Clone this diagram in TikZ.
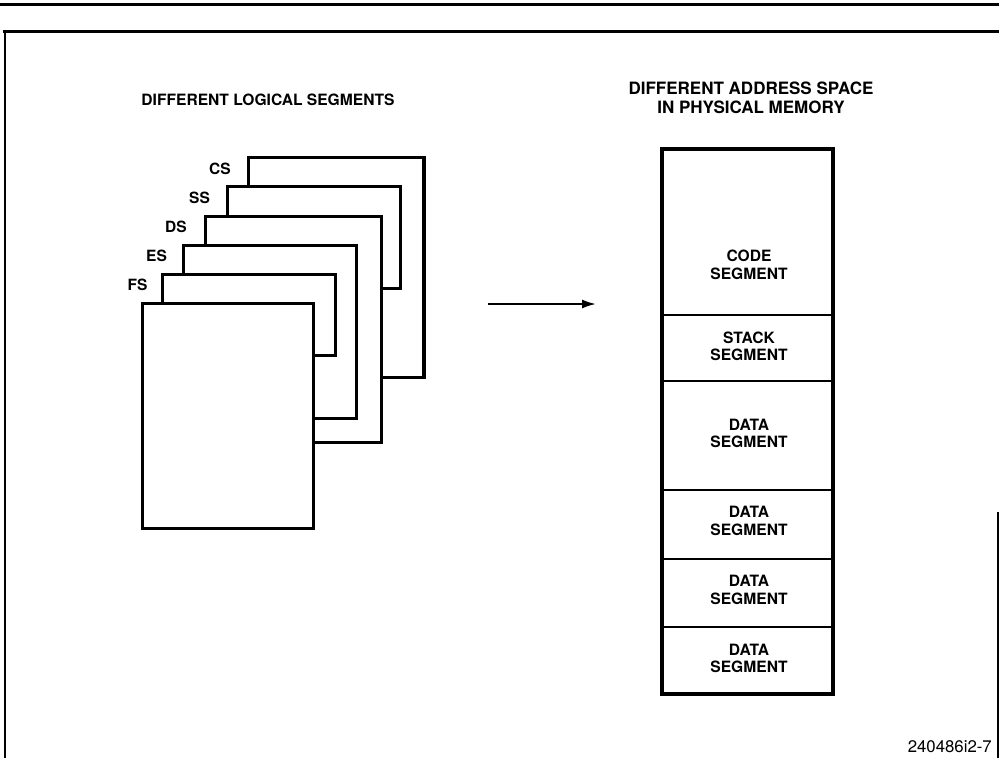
\documentclass[tikz,border=0pt]{standalone}
\usepackage{fontspec}
\setmainfont{TeX Gyre Heros}
\usetikzlibrary{arrows.meta}
\begin{document}
\begin{tikzpicture}[x=1pt,y=-1pt,
  pagebox/.style={draw, fill=white, line width=3pt, anchor=north west, inner sep=0pt, outer sep=0pt},
  seglbl/.style={font=\fontsize{15.5}{18}\selectfont\bfseries, inner sep=0pt},
  title/.style={font=\fontsize{16}{19}\selectfont\bfseries, inner sep=0pt, align=center},
  memtext/.style={font=\fontsize{15.6}{17.5}\selectfont\bfseries, inner sep=0pt, align=center},
  memcol/.style={draw, line width=3.4pt, anchor=north west, inner sep=0pt, outer sep=0pt},
  divider/.style={line width=2.3pt},
  framerule/.style={line width=3pt},
  pointer/.style={line width=2pt, -{Latex[length=14pt,width=9pt]}}
]
\useasboundingbox (0,0) rectangle (999,758);
% frame
\draw[framerule] (0,4.5) -- (999,4.5);
\draw[line width=3.2pt] (3,31.5) -- (999,31.5);
\draw[line width=2.4pt] (5,30) -- (5,758);
\draw[line width=1.6pt] (998,512) -- (998,758);

% titles
\node[title, font=\fontsize{15.6}{19}\selectfont\bfseries] (tleft) at (268,100) {DIFFERENT LOGICAL SEGMENTS};
\node[title, font=\fontsize{17}{19}\selectfont\bfseries] (tright) at (751,97.5) {DIFFERENT ADDRESS SPACE\\IN PHYSICAL MEMORY};

% stacked logical segments (back to front)
\node[pagebox, minimum width=176pt, minimum height=220pt] (cs) at (248,157) {};
\draw[line width=4.6pt] (cs.north east) -- (cs.south east);
\node[pagebox, minimum width=173pt, minimum height=102pt] (ss) at (227,186) {};
\node[pagebox, minimum width=176pt, minimum height=226pt] (ds) at (205,216) {};
\node[pagebox, minimum width=173pt, minimum height=173pt] (es) at (183,245) {};
\node[pagebox, minimum width=173pt, minimum height=81pt] (fs) at (162,274) {};
\node[pagebox, minimum width=171pt, minimum height=225pt] (front) at (142,303) {};

\node[seglbl] (lcs) at (220,169) {CS};
\node[seglbl] (lss) at (199.5,198) {SS};
\node[seglbl] (lds) at (176,227) {DS};
\node[seglbl] (les) at (156.5,256) {ES};
\node[seglbl] (lfs) at (137.5,285) {FS};

% arrow
\coordinate (a1) at (488,304);
\coordinate (a2) at (596,304);
\draw[pointer] (a1) -- (a2);

% physical memory column
\node[memcol, minimum width=171pt, minimum height=545pt] (mem) at (662,149) {};
\draw[divider] (662,315) -- (833,315);
\draw[divider] (662,381) -- (833,381);
\draw[divider] (662,490) -- (833,490);
\draw[divider] (662,559) -- (833,559);
\draw[divider] (662,627) -- (833,627);

\node[memtext] (code) at (749,265) {CODE\\SEGMENT};
\node[memtext] (stack) at (749,346.5) {STACK\\SEGMENT};
\node[memtext] (data1) at (749,433.5) {DATA\\SEGMENT};
\node[memtext] (data2) at (749,521) {DATA\\SEGMENT};
\node[memtext] (data3) at (749,590) {DATA\\SEGMENT};
\node[memtext] (data4) at (749,658.5) {DATA\\SEGMENT};

% figure number
\node[font=\fontsize{16.8}{18}\selectfont, inner sep=0pt, anchor=east] (fignum) at (992,747) {240486i2-7};
\end{tikzpicture}
\end{document}
